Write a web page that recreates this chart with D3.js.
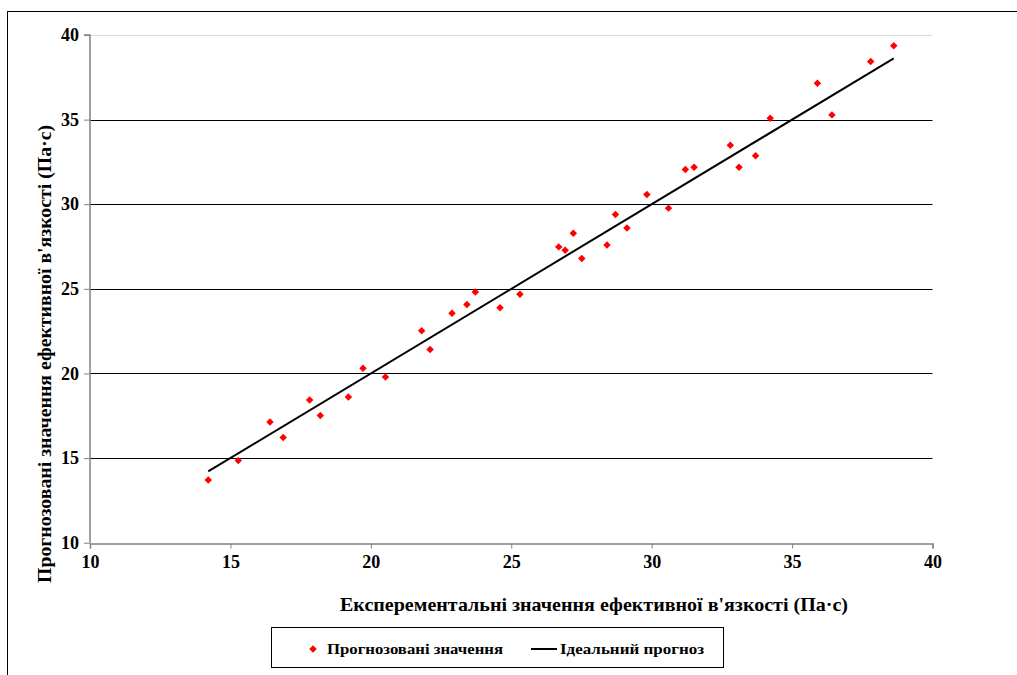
<!DOCTYPE html>
<html>
<head>
<meta charset="utf-8">
<script src="https://cdn.jsdelivr.net/npm/d3@7"></script>
<style>
  html, body { margin: 0; padding: 0; background: #fff; }
  svg { display: block; }
  svg text { font-family: 'Liberation Serif', 'Times New Roman', serif !important; font-weight: bold; fill: #000; }
</style>
</head>
<body>
<svg id="chart" width="1017" height="675"></svg>
<script>
// Experimental effective viscosity (Pa·s) and the model's predicted values
const experimental = [14.21, 15.28, 16.41, 16.88, 17.82, 18.20, 19.20, 19.72, 20.52, 21.81,
  22.11, 22.89, 23.42, 23.72, 24.60, 25.31, 26.69, 26.92, 27.21, 27.51,
  28.41, 28.71, 29.12, 29.83, 30.60, 31.20, 31.51, 32.80, 33.11, 33.70,
  34.22, 35.90, 36.42, 37.80, 38.62];
const predicted = [13.71, 14.85, 17.13, 16.21, 18.43, 17.51, 18.61, 20.31, 19.79, 22.53,
  21.41, 23.56, 24.07, 24.82, 23.89, 24.68, 27.48, 27.28, 28.29, 26.80,
  27.59, 29.39, 28.59, 30.57, 29.77, 32.05, 32.19, 33.49, 32.19, 32.87,
  35.08, 37.15, 35.28, 38.43, 39.37];
const tickValues = [10, 15, 20, 25, 30, 35, 40];
const seriesNames = ["Прогнозовані значення", "Ідеальний прогноз"];
const xTitle = "Експерементальні значення ефективної в'язкості (Па·с)";
const yTitle = "Прогнозовані значення ефективної в'язкості (Па·с)";

const svg = d3.select("#chart");
const plot = { left: 90, right: 932.5, top: 35, bottom: 542.7 };

svg.append("rect").attr("width", 1017).attr("height", 675).attr("fill", "#fff");
// chart frame
svg.append("rect")
  .attr("x", 7.5).attr("y", 11.5).attr("width", 1040).attr("height", 700)
  .attr("fill", "none").attr("stroke", "#000").attr("stroke-width", 1);

const x = d3.scaleLinear().domain([10, 40]).range([plot.left, plot.right]);
const y = d3.scaleLinear().domain([10, 40]).range([plot.bottom, plot.top]);

// horizontal gridlines
svg.append("g").selectAll("line")
  .data(tickValues.filter(v => v > 10))
  .join("line")
  .attr("x1", plot.left).attr("x2", plot.right)
  .attr("y1", d => Math.round(y(d)) + 0.5).attr("y2", d => Math.round(y(d)) + 0.5)
  .attr("stroke", d => d === 40 ? "#d9d9d9" : "#000")
  .attr("stroke-width", 1);

// axes
const yAxis = svg.append("g")
  .attr("transform", `translate(${plot.left},0)`)
  .call(d3.axisLeft(y).tickValues(tickValues).tickSize(6).tickPadding(5).tickFormat(d3.format("d")));
const xAxis = svg.append("g")
  .attr("transform", `translate(0,${Math.round(plot.bottom) + 0.5})`)
  .call(d3.axisBottom(x).tickValues(tickValues).tickSize(5).tickPadding(7).tickFormat(d3.format("d")));
[xAxis, yAxis].forEach(g => {
  g.attr("font-family", null).attr("font-size", null);
  g.select(".domain").attr("stroke", "#808080").attr("stroke-width", 1.5);
  g.selectAll(".tick line").attr("stroke", "#808080");
  g.selectAll(".tick text")
    .style("font-size", "18px")
    .attr("fill", "#000");
});
yAxis.select(".domain").attr("d", `M-6,${plot.top}H0V${plot.bottom}`);

// ideal prediction line y = x over the experimental range
const [xmin, xmax] = d3.extent(experimental);
svg.append("path")
  .datum([xmin, xmax])
  .attr("d", d3.line().x(d => x(d)).y(d => y(d)))
  .attr("stroke", "#000").attr("stroke-width", 2).attr("fill", "none");

// predicted points as diamonds
const diamond = d3.symbol().type(d3.symbolSquare).size(28);
svg.append("g").selectAll("path")
  .data(experimental.map((v, i) => [v, predicted[i]]))
  .join("path")
  .attr("d", diamond)
  .attr("transform", d => `translate(${x(d[0])},${y(d[1])}) rotate(45)`)
  .attr("fill", "#ff0000");

// axis titles
svg.append("text")
  .attr("x", 594).attr("y", 611)
  .attr("text-anchor", "middle")
  .style("font-size", "19px")
  .attr("textLength", 508).attr("lengthAdjust", "spacingAndGlyphs")
  .text(xTitle);
svg.append("text")
  .attr("transform", "translate(51,354) rotate(-90)")
  .attr("text-anchor", "middle")
  .style("font-size", "19px")
  .attr("textLength", 458).attr("lengthAdjust", "spacingAndGlyphs")
  .text(yTitle);

// legend
const legend = svg.append("g");
legend.append("rect")
  .attr("x", 271.5).attr("y", 627.5).attr("width", 452).attr("height", 40)
  .attr("fill", "#fff").attr("stroke", "#000").attr("stroke-width", 1);
legend.append("path")
  .attr("d", diamond)
  .attr("transform", "translate(313,649) rotate(45)")
  .attr("fill", "#ff0000");
legend.append("text")
  .attr("x", 327).attr("y", 654).style("font-size", "15px")
  .attr("textLength", 176).attr("lengthAdjust", "spacingAndGlyphs")
  .text(seriesNames[0]);
legend.append("line")
  .attr("x1", 531).attr("x2", 557).attr("y1", 649).attr("y2", 649)
  .attr("stroke", "#000").attr("stroke-width", 2);
legend.append("text")
  .attr("x", 560).attr("y", 654).style("font-size", "15px")
  .attr("textLength", 144).attr("lengthAdjust", "spacingAndGlyphs")
  .text(seriesNames[1]);
</script>
</body>
</html>
